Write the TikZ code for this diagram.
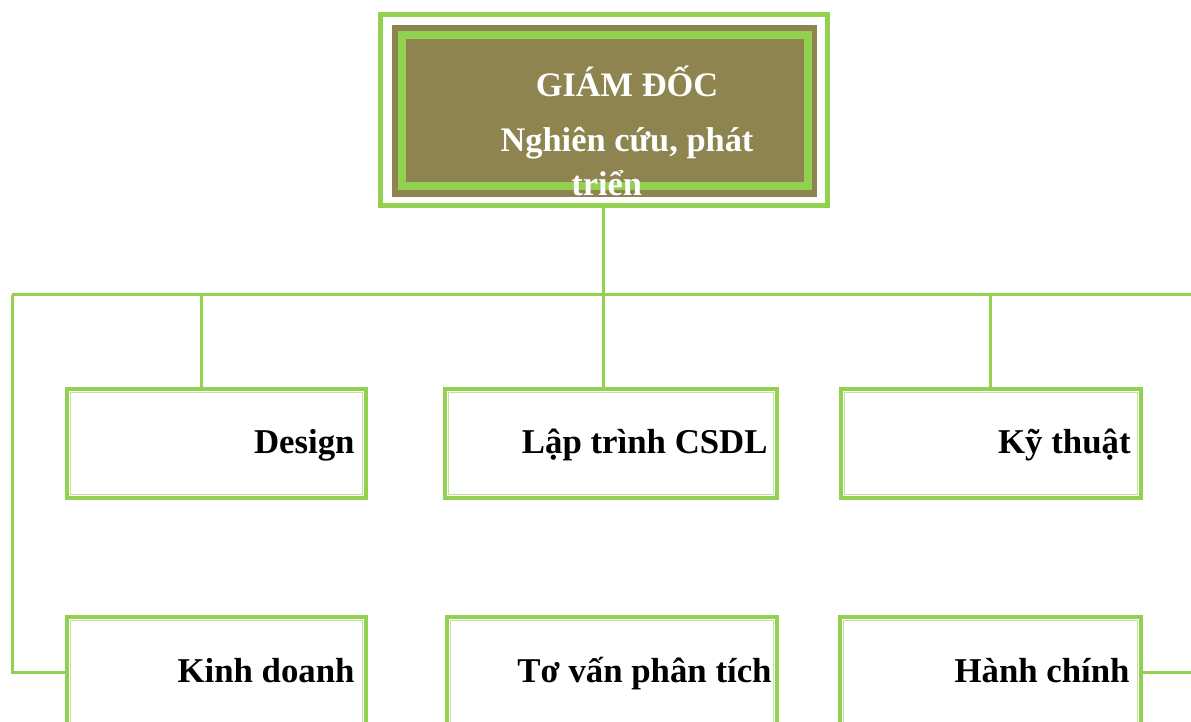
\documentclass[tikz,border=0pt]{standalone}
\usepackage{fontspec}
\setmainfont{Liberation Serif}
\usetikzlibrary{fit,calc}
\definecolor{lgreen}{HTML}{92D050}
\definecolor{pgreen}{HTML}{C2E2A0}
\definecolor{olive}{HTML}{8E8450}
\tikzset{
  box/.style={draw=lgreen, line width=2pt, fill=white, inner sep=0pt},
  innerline/.style={draw=pgreen, line width=0.9pt},
  conn/.style={draw=lgreen, line width=1.5pt},
  lbl/.style={font=\bfseries\fontsize{17.4}{20}\selectfont, text=black, inner sep=0pt},
  wlbl/.style={font=\bfseries\fontsize{17.2}{20}\selectfont, text=white, inner sep=0pt},
}
\begin{document}
\begin{tikzpicture}[x=0.5pt,y=-0.5pt]
\useasboundingbox (0,0) rectangle (1191,722);
\clip (0,0) rectangle (1191,722);
% top box
\node[draw=lgreen, line width=2.5pt, inner sep=0pt, fit={(380.5,14.5) (827.5,206)}] (top) {};
\node[fill=olive, inner sep=0pt, fit={(392,25) (817,197)}] (topfill) {};
\node[draw=lgreen, line width=4pt, inner sep=0pt, fit={(401.5,35) (807.5,186)}] (topband) {};
\node[wlbl, anchor=base] (t1) at (627,97) {GIÁM ĐỐC};
\node[wlbl, anchor=base] (t2) at (627,152) {Nghiên cứu, phát};
\node[wlbl, anchor=base west] (t3) at (571,196) {triển};
% boxes
\node[box, fit={(67,389) (366,498)}] (design) {};
\node[box, fit={(445,389) (777,498)}] (laptrinh) {};
\node[box, fit={(841,389) (1141,498)}] (kythuat) {};
\node[box, fit={(67,617) (366,730)}] (kinhdoanh) {};
\node[box, fit={(447,617) (777,730)}] (tuvan) {};
\node[box, fit={(840,617) (1141,730)}] (hanhchinh) {};
\foreach \n in {design,laptrinh,kythuat,kinhdoanh,tuvan,hanhchinh}{
  \draw[innerline] ([shift={(5.5,5.5)}]\n.north west) rectangle ([shift={(-5.5,-5.5)}]\n.south east);
}
\node[lbl, anchor=base east] (l1) at (355,453) {Design};
\node[lbl, anchor=base east] (l2) at (768,453) {Lập trình CSDL};
\node[lbl, anchor=base east] (l3) at (1131,453) {Kỹ thuật};
\node[lbl, anchor=base east] (l4) at (355,682) {Kinh doanh};
\node[lbl, anchor=base east] (l5) at (772,682) {Tơ vấn phân tích};
\node[lbl, anchor=base east] (l6) at (1130,682) {Hành chính};
% connectors
\coordinate (busL) at (12,295);
\coordinate (busR) at (1200,295);
\coordinate (dx) at (201,295);
\coordinate (lx) at (603,295);
\coordinate (kx) at (990,295);
\coordinate (hR) at (1200,672);
\draw[conn] (top.south -| lx) -- (lx);
\draw[conn] (busL) -- (busR);
\draw[conn] (dx) -- (dx |- design.north);
\draw[conn] (lx) -- (lx |- laptrinh.north);
\draw[conn] (kx) -- (kx |- kythuat.north);
\draw[conn] (busL) -- (busL |- hR) -- (kinhdoanh.west |- hR);
\draw[conn] (hanhchinh.east |- hR) -- (hR);
\end{tikzpicture}
\end{document}
